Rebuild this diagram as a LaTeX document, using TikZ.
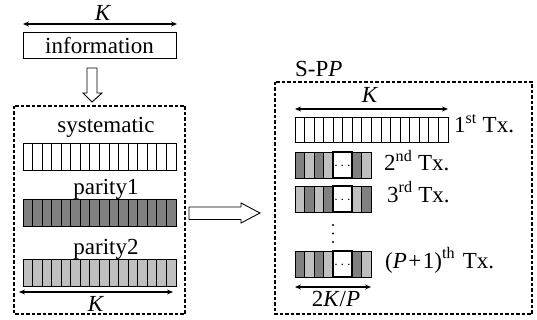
\documentclass[tikz,border=0pt]{standalone}
\usepackage{fontspec}
\setmainfont{Liberation Serif}
\usetikzlibrary{arrows.meta}
\begin{document}
\begin{tikzpicture}[x=1pt,y=-1pt,
  txt/.style={inner sep=0pt,font=\fontsize{23}{25}\selectfont},
  cell/.style={draw=black,line width=0.9pt},
  dk/.style={cell,fill=black!50},
  lt/.style={cell,fill=black!25},
  wh/.style={cell,fill=white},
  dim/.style={line width=1.1pt,<->,>={Stealth[length=6pt,width=5pt]}},
  frame/.style={draw=black,line width=1.2pt,dash pattern=on 3.5pt off 2pt},
  hollow/.style={draw=black,line width=0.9pt,fill=white}]
\useasboundingbox (0,0) rectangle (537,320);
% ---------- left part ----------
\coordinate (kl) at (23,24); \coordinate (kr) at (177,24);
\draw[dim] (kl) -- (kr);
\node[txt,anchor=base] (ktop) at (103,21) {\textit{K}};
\node[draw=black,line width=0.9pt,minimum width=153pt,minimum height=26pt,inner sep=0pt] (info) at (99.5,45.5) {};
\node[txt,anchor=base] (infot) at (99.5,54) {information};
\draw[hollow] (87,68) -- (97,68) -- (97,93) -- (102,93) -- (92,102) -- (83,93) -- (87,93) -- cycle;
\draw[frame] (14,106) rectangle (185,314);
\node[txt,anchor=base] (syst) at (106,133) {systematic};
\foreach \i in {0,...,15}{
  \draw[wh] ({23+\i*9.5625},143) rectangle ({23+(\i+1)*9.5625},170);
  \draw[dk] ({23+\i*9.5625},199) rectangle ({23+(\i+1)*9.5625},226);
  \draw[lt] ({23+\i*9.5625},259) rectangle ({23+(\i+1)*9.5625},286);
}
\node[txt,anchor=base] (par1) at (106,194) {parity1};
\node[txt,anchor=base] (par2) at (106,254) {parity2};
\coordinate (bl) at (19,292); \coordinate (br) at (173,292);
\draw[dim] (bl) -- (br);
\node[txt,anchor=base] (kbot) at (96,311) {\textit{K}};
% ---------- arrow between ----------
\draw[hollow] (189,207) -- (241,207) -- (241,203) -- (260,213) -- (241,223) -- (241,219.5) -- (189,219.5) -- cycle;
% ---------- right part ----------
\node[txt,anchor=base west] (spp) at (295,77) {S-P\textit{P}};
\draw[frame] (275,82) rectangle (532,314);
\coordinate (rkl) at (295,109); \coordinate (rkr) at (448,109);
\draw[dim] (rkl) -- (rkr);
\node[txt,anchor=base] (rk) at (370,103) {\textit{K}};
\foreach \i in {0,...,15}{
  \draw[wh] ({295+\i*9.5625},117) rectangle ({295+(\i+1)*9.5625},142);
}
\node[txt,anchor=base west] (tx1) at (454,133) {1\textsuperscript{st} Tx.};
% small bars
\newcommand{\smallbar}[4]{%
  \draw[#2] (295,#1) rectangle (304.5,#1+26);
  \draw[#3] (304.5,#1) rectangle (314,#1+26);
  \draw[#2] (314,#1) rectangle (323.5,#1+26);
  \draw[#3] (323.5,#1) rectangle (333,#1+26);
  \draw[#2] (352,#1) rectangle (361.5,#1+26);
  \draw[#3] (361.5,#1) rectangle (371,#1+26);
  \draw[wh,line width=1.4pt] (333,#1) rectangle (352,#1+26);
  \node[inner sep=0pt,font=\fontsize{14}{14}\selectfont] (#4) at (342.5,#1+14) {$\cdots$};}
\smallbar{152}{dk}{lt}{d2}
\smallbar{186}{lt}{dk}{d3}
\smallbar{251}{dk}{lt}{d4}
\node[txt,anchor=base west] (tx2) at (384,171) {2\textsuperscript{nd} Tx.};
\node[txt,anchor=base west] (tx3) at (387,202) {3\textsuperscript{rd} Tx.};
\node[txt,anchor=base west] (tx4) at (385,268) {(\textit{P}\hspace{1.5pt}+\hspace{1.5pt}1)\textsuperscript{th}\hspace{2pt} Tx.};
\foreach \yy in {225,233.5,242}{\fill (333,\yy) circle (1.2pt);}
\coordinate (sl) at (295,287); \coordinate (sr) at (371,287);
\draw[dim] (sl) -- (sr);
\node[txt,anchor=base] (kp) at (336,306) {2\textit{K}/\textit{P}};
\end{tikzpicture}
\end{document}
